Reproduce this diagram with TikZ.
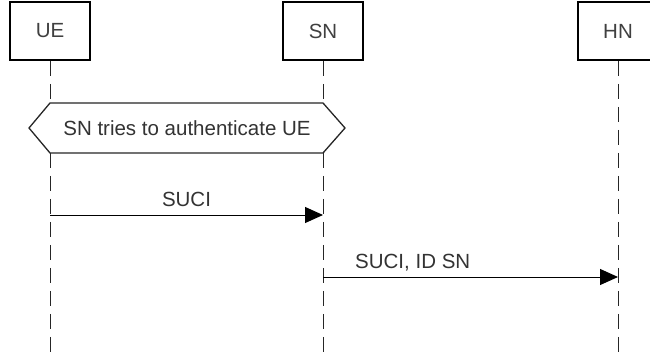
\documentclass[tikz,border=0pt]{standalone}
\usepackage{fontspec}
\setmainfont{Liberation Sans}
\usetikzlibrary{arrows.meta,positioning}

\tikzset{
	actor/.style={draw, line width=1.8pt, minimum width=80pt, minimum height=58pt, inner sep=0pt, font=\fontsize{20.5}{24}\selectfont, text=black!75},
	lifeline/.style={line width=1pt, dash pattern=on 15pt off 8pt, black!85},
	msg/.style={line width=1pt, -{Triangle[length=18pt,width=16pt]}},
	lbl/.style={font=\fontsize{20.5}{24}\selectfont, text=black!80, inner sep=0pt}
}

\begin{document}
\begin{tikzpicture}[x=1pt, y=-1pt]
		\useasboundingbox (0,0) rectangle (650,358);
		% actors
		\node[actor] (ue) at (50, 31) {UE};
		\node[actor] (sn) at (323, 31) {SN};
		\node[actor] (hn) at (618, 31) {HN};
		
		\coordinate (ueend) at (50, 358);
		\coordinate (snend) at (323, 358);
		\coordinate (hnend) at (618, 358);
		\draw[lifeline] (ue.south) -- (ueend);
		\draw[lifeline] (sn.south) -- (snend);
		\draw[lifeline] (hn.south) -- (hnend);
		
		% note over UE and SN
		\filldraw[fill=white, draw=black!85, line width=1.3pt] (50, 103) -- (323, 103) -- (345, 128) -- (323, 153) -- (50, 153) -- (29, 128) -- cycle;
		\node[lbl] (note) at (187, 128) {SN tries to authenticate UE};
		
		% messages
		\coordinate (m1a) at (50, 215);
		\coordinate (m1b) at (323, 215);
		\draw[msg] (m1a) -- (m1b) node[lbl, midway, above=8pt] (m1) {SUCI};
		
		\coordinate (m2a) at (323, 277);
		\coordinate (m2b) at (618, 277);
		\draw[msg] (m2a) -- (m2b);
		\node[lbl, anchor=base west] (m2) at (355, 268) {SUCI, ID SN};
	\end{tikzpicture}
\end{document}
